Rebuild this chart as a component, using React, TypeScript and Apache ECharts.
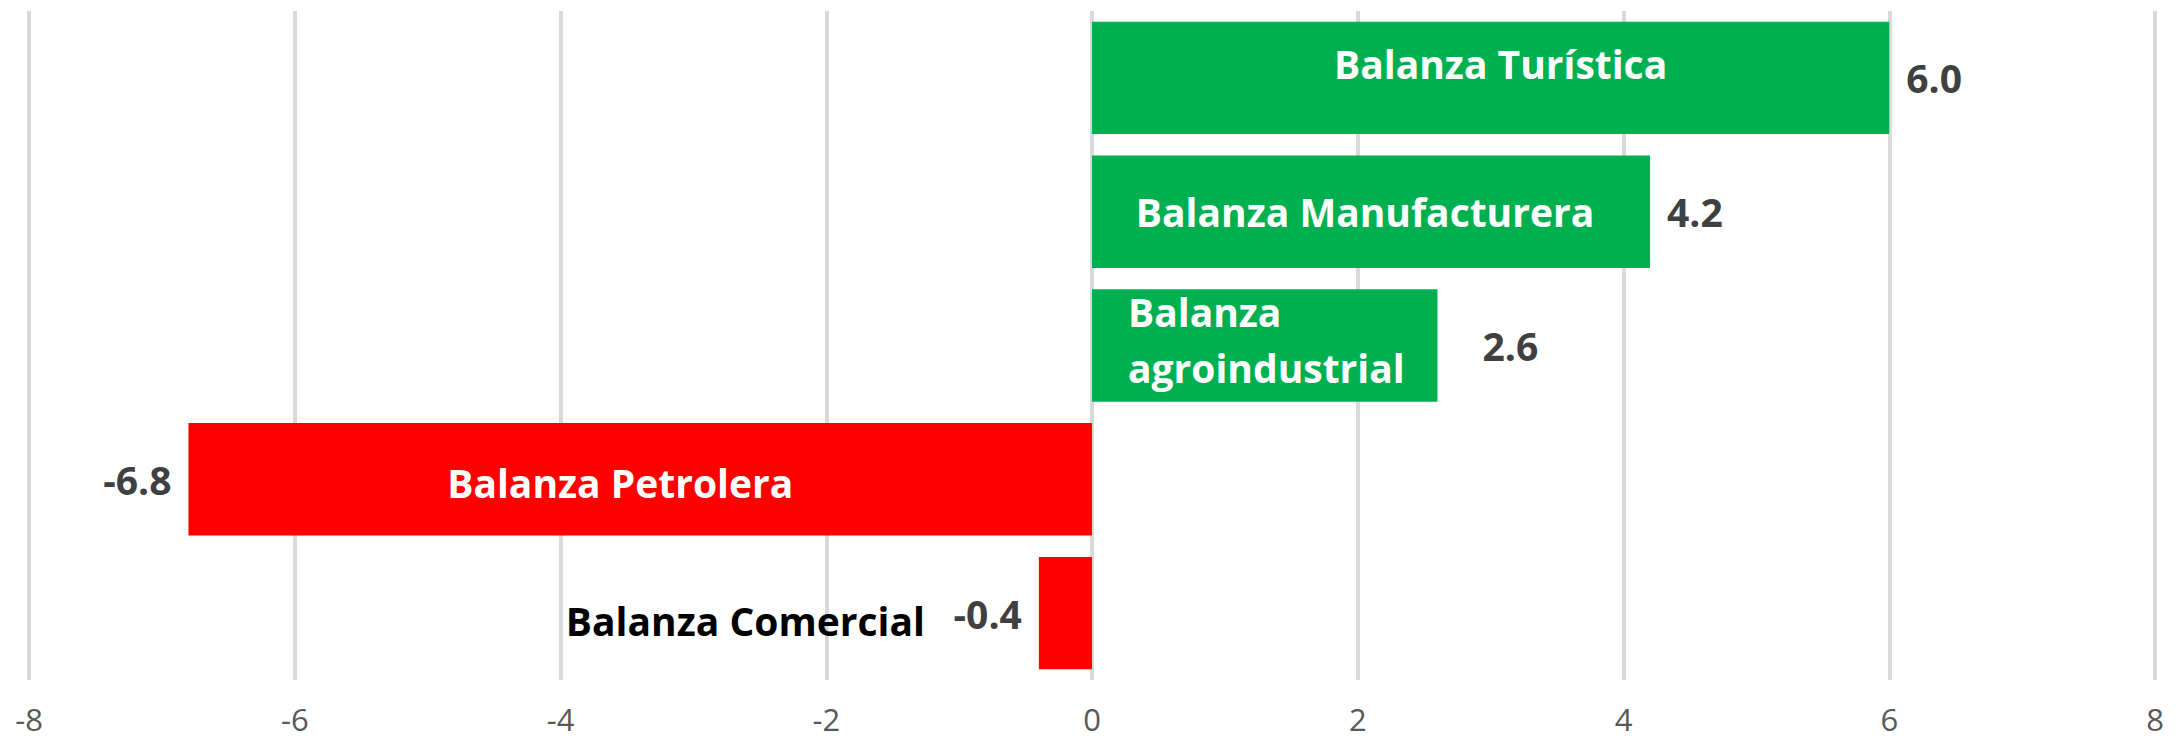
import React, { useEffect, useRef } from "react";
import * as echarts from "echarts";

const categories = [
  "Balanza Turística",
  "Balanza Manufacturera",
  "Balanza\nagroindustrial",
  "Balanza Petrolera",
  "Balanza Comercial",
];
const values = [6.0, 4.2, 2.6, -6.8, -0.4];
const xTicks = { min: -8, max: 8, interval: 2 };

const GREEN = "#00B050";
const RED = "#FF0000";
const FONT = "'Open Sans', 'Noto Sans', sans-serif";

// per-category label placement (layout only)
const nameLabelLayout: any[] = [
  { position: "inside", offset: [10, -14], color: "#fff" },
  { position: "inside", offset: [-6, 0], color: "#fff" },
  { position: "insideLeft", distance: 36, offset: [0, -6], color: "#fff", align: "left", lineHeight: 56 },
  { position: "inside", offset: [-20, 3], color: "#fff" },
  { position: "left", distance: 114, offset: [0, 7], color: "#000" },
];
const valueLabelExtra: any[] = [{}, {}, { offset: [28, 0] }, {}, {}];

export default function App() {
  const ref = useRef<HTMLDivElement>(null);
  useEffect(() => {
    if (!ref.current) return;
    const chart = echarts.init(ref.current, null, { renderer: "svg" });
    chart.setOption({
      animation: false,
      backgroundColor: "#fff",
      grid: { left: 29, right: 28, top: 11, bottom: 64, containLabel: false },
      xAxis: {
        type: "value",
        min: xTicks.min,
        max: xTicks.max,
        interval: xTicks.interval,
        axisLine: { show: false },
        axisTick: { show: false },
        splitLine: { show: true, lineStyle: { color: "#D9D9D9", width: 4 } },
        axisLabel: { color: "#595959", fontSize: 31, lineHeight: 30, fontFamily: FONT, margin: 24 },
      },
      yAxis: {
        type: "category",
        data: categories,
        inverse: true,
        show: false,
      },
      series: [
        {
          type: "bar",
          barCategoryGap: "16%",
          barGap: "-100%",
          data: values.map((v, i) => ({
            value: v,
            itemStyle: { color: v >= 0 ? GREEN : RED },
            label: {
              show: true,
              position: v >= 0 ? "right" : "left",
              distance: 17,
              formatter: (p: any) => Number(p.value).toFixed(1),
              color: "#404040",
              fontWeight: "bold",
              fontSize: 39,
              fontFamily: FONT,
              ...valueLabelExtra[i],
            },
          })),
        },
        {
          type: "bar",
          barCategoryGap: "16%",
          barGap: "-100%",
          silent: true,
          itemStyle: { color: "rgba(0,0,0,0)" },
          data: values.map((v, i) => ({
            value: v,
            label: {
              show: true,
              formatter: categories[i],
              fontWeight: "bold",
              fontSize: 39,
              fontFamily: FONT,
              ...nameLabelLayout[i],
            },
          })),
        },
      ],
    });
    return () => chart.dispose();
  }, []);
  return (
    <div
      ref={ref}
      style={{ position: "absolute", left: 0, top: 0, width: 2183, height: 744 }}
    />
  );
}
